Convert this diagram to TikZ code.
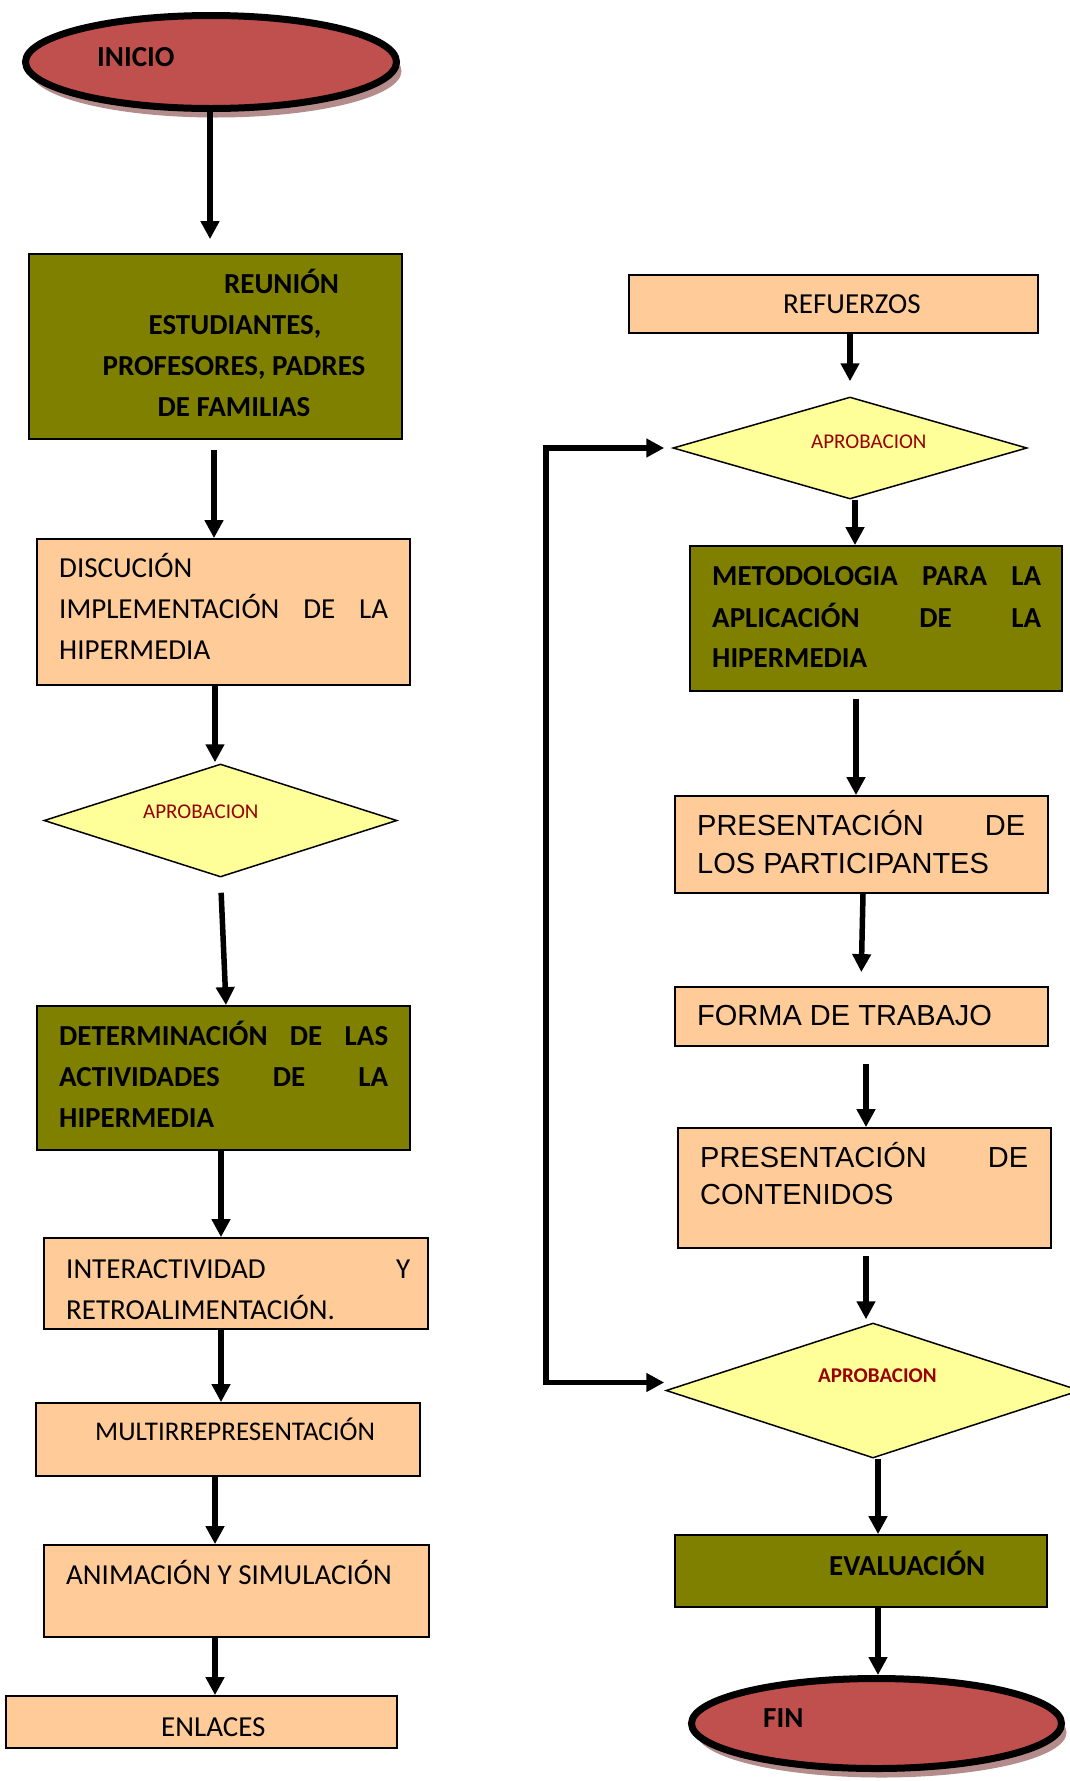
\documentclass[tikz,border=0pt]{standalone}
\usepackage{fontspec}
\setmainfont{Carlito}
\newfontfamily\arialf{Liberation Sans}
\usetikzlibrary{shapes.geometric,arrows.meta,shadows}
\definecolor{olivec}{RGB}{128,128,0}
\definecolor{peachc}{RGB}{255,204,153}
\definecolor{yellowc}{RGB}{255,255,153}
\definecolor{redc}{RGB}{192,80,77}
\definecolor{darkredc}{RGB}{153,0,0}
\definecolor{shadowc}{RGB}{180,140,140}
\tikzset{
  box/.style={rectangle, draw=black, line width=1.8pt, inner sep=0pt},
  peachbox/.style={box, fill=peachc},
  olivebox/.style={box, fill=olivec},
  decision/.style={diamond, draw=black, line width=1.5pt, fill=yellowc, inner sep=0pt},
  oval/.style={ellipse, draw=black, line width=7pt, fill=redc, inner sep=0pt,
    drop shadow={shadow xshift=5pt, shadow yshift=-9pt, fill=shadowc, opacity=1}},
  txt/.style={inner sep=0pt, anchor=base west, font=\fontsize{29pt}{41pt}\selectfont},
  btxt/.style={txt, font=\fontsize{29pt}{41pt}\selectfont\bfseries},
  ctxt/.style={btxt, anchor=base},
  atxt/.style={txt, font=\fontsize{29pt}{38pt}\selectfont\arialf},
  dtxt/.style={txt, text=darkredc, font=\fontsize{21pt}{25pt}\selectfont},
  dbtxt/.style={dtxt, font=\fontsize{21pt}{25pt}\selectfont\bfseries},
  arr/.style={line width=5.5pt, -{Triangle[length=18pt,width=18pt]}},
  arrboth/.style={line width=5.5pt, {Triangle[length=18pt,width=18pt]}-{Triangle[length=18pt,width=18pt]}}
}
\begin{document}
\begin{tikzpicture}[x=1pt,y=-1pt]
\useasboundingbox (0,0) rectangle (1070,1781);
\clip (0,0) rectangle (1070,1781);
\fill[white] (0,0) rectangle (1070,1781);

% ---------- left column shapes ----------
\node[oval, minimum width=371pt, minimum height=93pt] (ini) at (211,62) {};
\node[olivebox, minimum width=373pt, minimum height=185pt] (reu) at (215.5,346.5) {};
\node[peachbox, minimum width=373pt, minimum height=146pt] (dis) at (223.5,612) {};
\node[decision, minimum width=353pt, minimum height=113pt] (d1) at (220.5,820.5) {};
\node[olivebox, minimum width=373pt, minimum height=144pt] (det) at (223.5,1078) {};
\node[peachbox, minimum width=384pt, minimum height=91pt] (inter) at (236,1283.5) {};
\node[peachbox, minimum width=384pt, minimum height=73pt] (multi) at (228,1439.5) {};
\node[peachbox, minimum width=385pt, minimum height=92pt] (anim) at (236.5,1591) {};
\node[peachbox, minimum width=391pt, minimum height=52pt] (enl) at (201.5,1722) {};

% ---------- right column shapes ----------
\node[peachbox, minimum width=409pt, minimum height=58pt] (ref) at (833.5,304) {};
\node[decision, minimum width=354pt, minimum height=102pt] (d2) at (850,448) {};
\node[olivebox, minimum width=372pt, minimum height=145pt] (met) at (876,618.5) {};
\node[peachbox, minimum width=373pt, minimum height=97pt] (part) at (861.5,844.5) {};
\node[peachbox, minimum width=373pt, minimum height=59pt] (forma) at (861.5,1016.5) {};
\node[peachbox, minimum width=373pt, minimum height=120pt] (cont) at (864.5,1188) {};
\node[decision, minimum width=414pt, minimum height=135pt] (d3) at (873,1390.5) {};
\node[olivebox, minimum width=372pt, minimum height=72pt] (eval) at (861,1571) {};
\node[oval, minimum width=370pt, minimum height=90pt] (fin) at (876.5,1723.5) {};

% ---------- texts ----------
\node[btxt] (tini) at (97,66) {INICIO};
\node[ctxt] (treu1) at (281.5,293) {REUNIÓN};
\node[ctxt] (treu2) at (235,334) {ESTUDIANTES,};
\node[ctxt] (treu3) at (234,375) {PROFESORES, PADRES};
\node[ctxt] (treu4) at (234,416) {DE FAMILIAS};

\node[txt] (tdis1) at (59,577) {DISCUCIÓN};
\node[txt] (tdis2) at (59,618) {\hbox to 329pt{IMPLEMENTACIÓN\hfill DE\hfill LA}};
\node[txt] (tdis3) at (59,659) {HIPERMEDIA};

\node[dtxt] (td1) at (143,818) {APROBACION};

\node[btxt] (tdet1) at (59,1045) {\hbox to 329pt{DETERMINACIÓN\hfill DE\hfill LAS}};
\node[btxt] (tdet2) at (59,1086) {\hbox to 329pt{ACTIVIDADES\hfill DE\hfill LA}};
\node[btxt] (tdet3) at (59,1127) {HIPERMEDIA};

\node[txt] (tint1) at (66,1278) {\hbox to 344pt{INTERACTIVIDAD\hfill Y}};
\node[txt] (tint2) at (66,1319) {RETROALIMENTACIÓN.};
\node[txt, font=\fontsize{27pt}{38pt}\selectfont] (tmul) at (95,1440) {MULTIRREPRESENTACIÓN};
\node[txt] (tani) at (66,1584) {ANIMACIÓN Y SIMULACIÓN};
\node[txt] (tenl) at (161,1736) {ENLACES};

\node[txt] (tref) at (783,313) {REFUERZOS};
\node[dtxt] (td2) at (811,448) {APROBACION};
\node[btxt] (tmet1) at (712,585) {\hbox to 329pt{METODOLOGIA\hfill PARA\hfill LA}};
\node[btxt] (tmet2) at (712,627) {\hbox to 329pt{APLICACIÓN\hfill DE\hfill LA}};
\node[btxt] (tmet3) at (712,667) {HIPERMEDIA};
\node[atxt] (tpar1) at (697,835) {\hbox to 328pt{PRESENTACIÓN\hfill DE}};
\node[atxt] (tpar2) at (697,873) {LOS PARTICIPANTES};
\node[atxt] (tfor) at (697,1025) {FORMA DE TRABAJO};
\node[atxt] (tcon1) at (700,1167) {\hbox to 328pt{PRESENTACIÓN\hfill DE}};
\node[atxt] (tcon2) at (700,1204) {CONTENIDOS};
\node[dbtxt] (td3) at (818,1382) {APROBACION};
\node[btxt] (teval) at (829,1575) {EVALUACIÓN};
\node[btxt] (tfin) at (763,1727) {FIN};

% ---------- connectors ----------
\coordinate (fb) at (546,900);
\draw[arr, shorten >=14pt] ([xshift=-1pt]ini.south) -- ([xshift=-1pt]ini.south |- reu.north);
\draw[arr, shorten <=10pt] ([xshift=-1.5pt]reu.south) -- ([xshift=-1.5pt]reu.south |- dis.north);
\draw[arr, shorten >=1pt] ([xshift=-8.5pt]dis.south) -- ([xshift=-8.5pt]dis.south |- d1.north);
\draw[arr, shorten <=15pt] (d1.south) -- ([xshift=2.5pt]det.north);
\draw[arr] ([xshift=-2.5pt]det.south) -- ([xshift=-2.5pt]det.south |- inter.north);
\draw[arr] ([xshift=-15pt]inter.south) -- ([xshift=-15pt]inter.south |- multi.north);
\draw[arr] ([xshift=-13pt]multi.south) -- ([xshift=-13pt]multi.south |- anim.north);
\draw[arr] ([xshift=-21.5pt]anim.south) -- ([xshift=-21.5pt]anim.south |- enl.north);

\draw[arr, shorten >=15pt] ([xshift=16.5pt]ref.south) -- (d2.north);
\draw[arr] ([xshift=5pt]d2.south) -- ([xshift=5pt]d2.south |- met.north);
\draw[arr, shorten <=7pt] ([xshift=-20pt]met.south) -- ([xshift=-20pt]met.south |- part.north);
\draw[arr, shorten >=14pt] ([xshift=1.5pt]part.south) -- ([xshift=-0.5pt]forma.north);
\draw[arr, shorten <=17pt] ([xshift=4.5pt]forma.south) -- ([xshift=4.5pt]forma.south |- cont.north);
\draw[arr, shorten <=7pt, shorten >=3pt] ([xshift=1.5pt]cont.south) -- ([xshift=1.5pt]cont.south |- d3.north);
\draw[arr] ([xshift=5pt]d3.south) -- ([xshift=5pt]d3.south |- eval.north);
\draw[arr] ([xshift=17pt]eval.south) -- ([xshift=17pt]eval.south |- fin.north);

\draw[arrboth, shorten <=8pt, shorten >=1pt]
  (d2.west) -- (d2.west -| fb) -- ([yshift=8pt]d3.west -| fb) -- ([yshift=8pt]d3.west);
\end{tikzpicture}
\end{document}
